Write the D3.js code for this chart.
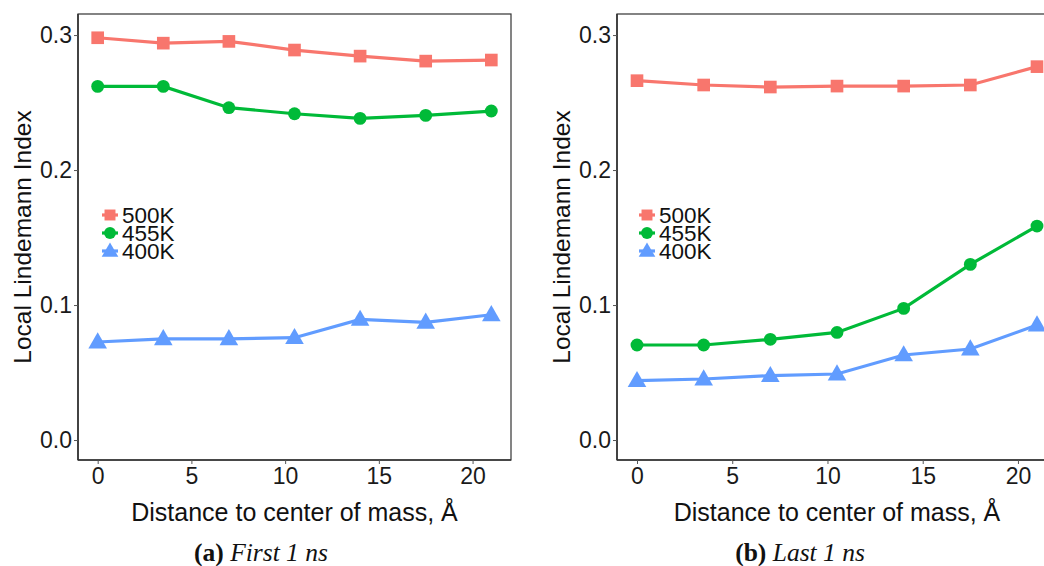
<!DOCTYPE html>
<html>
<head>
<meta charset="utf-8">
<script src="https://cdn.jsdelivr.net/npm/d3@7"></script>
<style>
  body { margin: 0; background: #fff; }
  svg { display: block; }
  .tick text { font-family: "Liberation Sans", Arial, sans-serif; font-size: 23px; fill: #1a1a1a; }
  .tick line { stroke: #555; }
  .domain { display: none; }
</style>
</head>
<body>
<svg id="chart" width="1044" height="566"></svg>
<script>
// distance to center of mass (Å)
const distances = [0, 3.5, 7, 10.5, 14, 17.5, 21];
const seriesNames = ["500K", "455K", "400K"];
const seriesColors = ["#F8766D", "#00BA38", "#619CFF"];
const seriesShapes = [d3.symbolSquare, d3.symbolCircle, d3.symbolTriangle];

// panel (a) first 1 ns
const firstNs500 = [0.298, 0.294, 0.2953, 0.2889, 0.2844, 0.2807, 0.2815];
const firstNs455 = [0.262, 0.262, 0.2462, 0.2417, 0.2383, 0.2405, 0.2437];
const firstNs400 = [0.0726, 0.0750, 0.0750, 0.0758, 0.0893, 0.0872, 0.0928];

// panel (b) last 1 ns
const lastNs500 = [0.2662, 0.263, 0.2615, 0.2622, 0.2622, 0.263, 0.2766];
const lastNs455 = [0.0704, 0.0704, 0.0746, 0.0797, 0.0975, 0.1301, 0.1585];
const lastNs400 = [0.0440, 0.0452, 0.0477, 0.0489, 0.0630, 0.0674, 0.0852];

const xTicks = [0, 5, 10, 15, 20];
const yTicks = [0.0, 0.1, 0.2, 0.3];

const svg = d3.select("#chart");

const panels = [
  { left: 78, width: 433, series: [firstNs500, firstNs455, firstNs400], tag: "(a)", caption: "First 1 ns", legendX: 110, capX: 261 },
  { left: 617, width: 440, series: [lastNs500, lastNs455, lastNs400], tag: "(b)", caption: "Last 1 ns", legendX: 647, capX: 800 }
];

const plotTop = 14, plotBottom = 460;

panels.forEach(p => {
  const x = d3.scaleLinear().domain([-1.05, 22.05]).range([p.left, p.left + p.width]);
  const y = d3.scaleLinear().domain([-0.0148, 0.3156]).range([plotBottom, plotTop]);

  const g = svg.append("g");

  // panel frame
  g.append("rect")
    .attr("x", p.left).attr("y", plotTop)
    .attr("width", p.width).attr("height", plotBottom - plotTop)
    .attr("fill", "none").attr("stroke", "#333").attr("stroke-width", 1.2);
  g.append("line")
    .attr("x1", p.left).attr("x2", p.left).attr("y1", plotTop).attr("y2", plotBottom)
    .attr("stroke", "#333").attr("stroke-width", 1.6);
  g.append("line")
    .attr("x1", p.left).attr("x2", p.left + p.width).attr("y1", plotBottom).attr("y2", plotBottom)
    .attr("stroke", "#333").attr("stroke-width", 1.6);

  g.append("g")
    .attr("transform", `translate(0,${plotBottom})`)
    .call(d3.axisBottom(x).tickValues(xTicks).tickSize(4).tickPadding(4).tickFormat(d3.format("d")));

  g.append("g")
    .attr("transform", `translate(${p.left},0)`)
    .call(d3.axisLeft(y).tickValues(yTicks).tickSize(4).tickPadding(2).tickFormat(d3.format(".1f")));

  // axis titles
  g.append("text")
    .attr("x", x(10.5)).attr("y", 521)
    .attr("text-anchor", "middle")
    .style("font-family", "Liberation Sans, Arial, sans-serif")
    .style("font-size", "25px").attr("fill", "#111")
    .text("Distance to center of mass, Å");

  g.append("text")
    .attr("transform", `translate(${p.left - 47},${(plotTop + plotBottom) / 2}) rotate(-90)`)
    .attr("text-anchor", "middle")
    .style("font-family", "Liberation Sans, Arial, sans-serif")
    .style("font-size", "24.5px").attr("fill", "#111")
    .text("Local Lindemann Index");

  // caption
  const cap = g.append("text")
    .attr("x", p.capX).attr("y", 561)
    .attr("text-anchor", "middle")
    .style("font-family", "Liberation Serif, Times New Roman, serif")
    .style("font-size", "25.5px").attr("fill", "#111");
  cap.append("tspan").style("font-weight", "bold").text(p.tag + " ");
  cap.append("tspan").style("font-style", "italic").text(p.caption);

  // series
  const line = d3.line().x((d, i) => x(distances[i])).y(d => y(d));
  p.series.forEach((vals, s) => {
    g.append("path")
      .datum(vals)
      .attr("d", line)
      .attr("fill", "none")
      .attr("stroke", seriesColors[s])
      .attr("stroke-width", 3.2);
    g.selectAll(null)
      .data(vals)
      .join("path")
      .attr("transform", (d, i) => `translate(${x(distances[i])},${y(d) + (s === 2 ? 1 : 0)})`)
      .attr("d", d3.symbol().type(seriesShapes[s]).size(s === 0 ? 160 : s === 1 ? 130 : 150))
      .attr("fill", seriesColors[s]);
  });

  // legend
  const leg = g.append("g");
  seriesNames.forEach((name, s) => {
    const ly = 215 + s * 18;
    leg.append("line")
      .attr("x1", p.legendX - 8).attr("x2", p.legendX + 8)
      .attr("y1", ly).attr("y2", ly)
      .attr("stroke", seriesColors[s]).attr("stroke-width", 3.2);
    leg.append("path")
      .attr("transform", `translate(${p.legendX},${ly + (s === 2 ? 1 : 0)})`)
      .attr("d", d3.symbol().type(seriesShapes[s]).size(s === 0 ? 120 : s === 1 ? 110 : 120))
      .attr("fill", seriesColors[s]);
    leg.append("text")
      .attr("x", p.legendX + 12).attr("y", ly + 8)
      .style("font-family", "Liberation Sans, Arial, sans-serif")
      .style("font-size", "22.5px").attr("fill", "#111")
      .text(name);
  });
});
</script>
</body>
</html>
